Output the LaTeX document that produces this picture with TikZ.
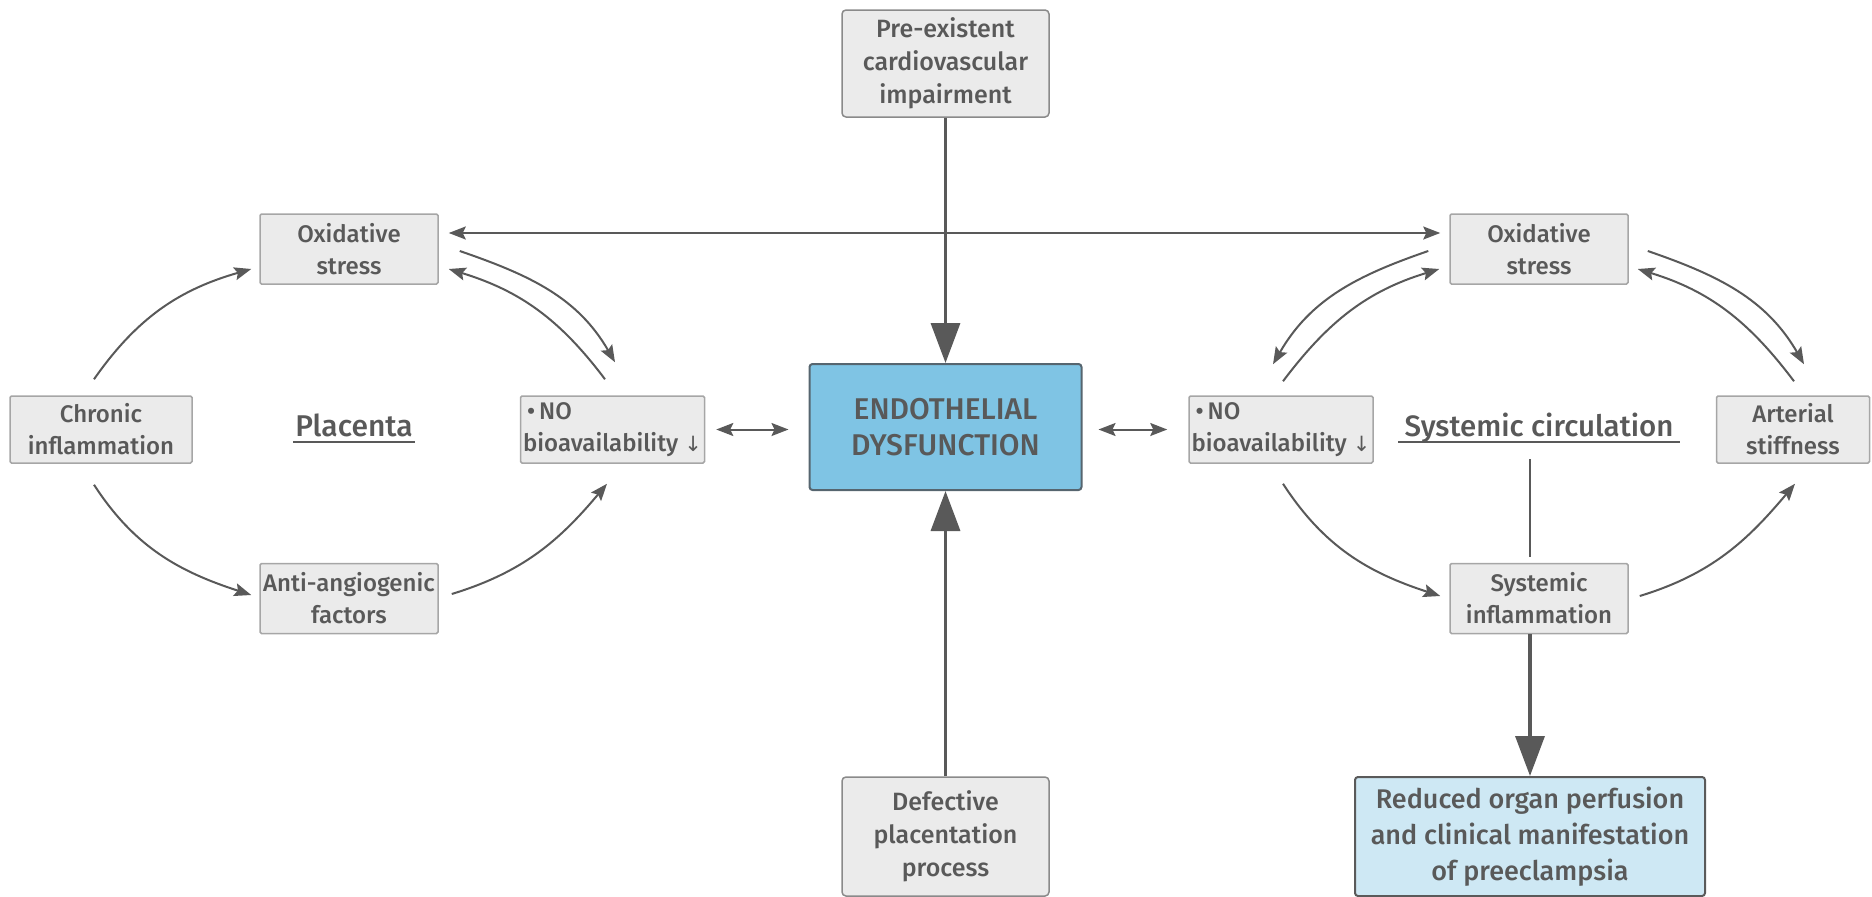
\documentclass[tikz,border=0pt]{standalone}
\usepackage{fontspec}
\IfFontExistsTF{Fira Sans Medium}
  {\setmainfont{Fira Sans Medium}}
  {\setmainfont{Fira Sans}[FakeBold=1.2]}
\newfontfamily\symfont{DejaVu Sans}
\usetikzlibrary{arrows.meta,calc}
\definecolor{ink}{HTML}{595959}
\definecolor{boxfill}{HTML}{EBEBEB}
\definecolor{boxline}{HTML}{A6A6A6}
\definecolor{keyline}{HTML}{8A8A8A}
\definecolor{endofill}{HTML}{7FC4E4}
\definecolor{endoline}{HTML}{56656F}
\definecolor{resfill}{HTML}{CEE8F4}
\definecolor{resline}{HTML}{5A5A5A}
\begin{document}
\begin{tikzpicture}[x=1pt,y=1pt,
  every node/.style={text=ink},
  factor/.style={draw=boxline, fill=boxfill, line width=1.5pt, rounded corners=1.5pt,
    minimum width=178pt, minimum height=70pt, inner sep=0pt, align=center,
    font=\fontsize{24}{32}\selectfont},
  cause/.style={draw=keyline, fill=boxfill, line width=1.5pt, rounded corners=4pt,
    minimum width=207pt, inner sep=0pt, align=center,
    font=\fontsize{25}{33}\selectfont},
  region/.style={font=\fontsize{30}{36}\selectfont, inner ysep=0pt, inner xsep=2pt, anchor=base},
  link/.style={draw=ink, line width=2pt, -{Stealth[length=17pt,width=13pt,inset=3pt]}},
  twoway/.style={draw=ink, line width=2pt,
    {Stealth[length=17pt,width=13pt,inset=3pt]}-{Stealth[length=17pt,width=13pt,inset=3pt]}},
  heavy/.style={draw=ink, line width=3.5pt, -{Triangle[length=40pt,width=29pt]}},
]
\useasboundingbox (0,0) rectangle (1872,-897);

% central column
\node[cause, minimum height=107pt] (pre) at (945.5,-63.5) {Pre-existent\\cardiovascular\\impairment};
\node[cause, minimum height=119pt] (def) at (945.5,-836.5) {Defective\\placentation\\process};
\node[draw=endoline, fill=endofill, line width=2pt, rounded corners=3pt,
      minimum width=272pt, minimum height=126pt, inner sep=0pt, align=center,
      font=\fontsize{30}{36}\selectfont] (endo) at (945.5,-427) {ENDOTHELIAL\\DYSFUNCTION};

% placental cycle
\node[factor] (oxL) at (349,-249) {Oxidative\\stress};
\node[factor, minimum width=182pt, minimum height=67pt] (chronic) at (101,-429.5) {Chronic\\inflammation};
\node[factor, minimum width=184pt, minimum height=67pt, align=left] (noL) at (612.5,-429.5)
  {\hspace{4pt}•\hspace{4pt}NO\\bioavailability {\symfont\fontsize{21}{32}\selectfont ↓}};
\node[factor] (anti) at (349,-598.5) {Anti-angiogenic\\factors};
\node[region] (plac) at (354,-436) {Placenta};
\draw[ink, line width=2pt] ([yshift=-6pt]plac.base west) -- ([yshift=-6pt]plac.base east);

% systemic cycle
\node[factor] (oxR) at (1539,-249) {Oxidative\\stress};
\node[factor, minimum width=184pt, minimum height=67pt, align=left] (noR) at (1281,-429.5)
  {\hspace{4pt}•\hspace{4pt}NO\\bioavailability {\symfont\fontsize{21}{32}\selectfont ↓}};
\node[factor, minimum width=153pt, minimum height=67pt] (arterial) at (1793,-429.5) {Arterial\\stiffness};
\node[factor] (sysinf) at (1539,-598.5) {Systemic\\inflammation};
\node[region, font=\fontsize{29.5}{36}\selectfont, inner xsep=6pt] (circ) at (1539,-436) {Systemic circulation};
\draw[ink, line width=2pt] ([yshift=-6pt]circ.base west) -- ([yshift=-6pt]circ.base east);

% outcome
\node[draw=resline, fill=resfill, line width=2pt, rounded corners=3pt,
      minimum width=350pt, minimum height=119pt, inner sep=0pt, align=center,
      font=\fontsize{27}{36}\selectfont] (out) at (1530,-836.5)
  {Reduced organ perfusion\\and clinical manifestation\\of preeclampsia};

% main vertical connectors
\draw[heavy] (pre.south) -- (endo.north);
\draw[heavy] (def.north) -- (endo.south);
\draw[heavy] (sysinf.south -| out.north) -- (out.north);
\draw[ink, line width=2.5pt] ($(circ.base -| out.north)+(0,-23)$) -- ($(sysinf.north -| out.north)+(0,6)$);

% two-way links
\draw[twoway] ([xshift=10pt,yshift=16pt]oxL.east) -- ([xshift=-9pt,yshift=16pt]oxR.west);
\draw[twoway, shorten <=11pt, shorten >=20pt] (noL.east) -- (noL.east -| endo.west);
\draw[twoway, shorten <=16pt, shorten >=21pt] (endo.east |- noR.west) -- (noR.west);

% placental cycle arrows
\draw[link] ([xshift=-7pt,yshift=16pt]chronic.north) to[out=55,in=196] ([xshift=-8pt,yshift=-20pt]oxL.west);
\draw[link] ([xshift=21pt,yshift=-2pt]oxL.east) to[out=-19,in=120] ([xshift=2.5pt,yshift=33pt]noL.north);
\draw[link] ([xshift=-7.5pt,yshift=16pt]noL.north) to[out=127,in=-17] ([xshift=10pt,yshift=-20pt]oxL.east);
\draw[link] ([xshift=-7pt,yshift=-21pt]chronic.south) to[out=-57,in=162] ([xshift=-8pt,yshift=3.5pt]anti.west);
\draw[link] ([xshift=13pt,yshift=4.5pt]anti.east) to[out=17,in=230] ([xshift=-5.5pt,yshift=-20pt]noL.south);

% systemic cycle arrows
\draw[link] ([xshift=-21pt,yshift=-2pt]oxR.west) to[out=199,in=60] ([xshift=-8pt,yshift=31pt]noR.north);
\draw[link] ([xshift=2pt,yshift=14pt]noR.north) to[out=53,in=197] ([xshift=-10pt,yshift=-20pt]oxR.west);
\draw[link] ([xshift=19pt,yshift=-2pt]oxR.east) to[out=-19,in=120] ([xshift=11pt,yshift=31pt]arterial.north);
\draw[link] ([xshift=1pt,yshift=14pt]arterial.north) to[out=127,in=-17] ([xshift=9pt,yshift=-20pt]oxR.east);
\draw[link] ([xshift=2pt,yshift=-20pt]noR.south) to[out=-57,in=162] ([xshift=-9pt,yshift=2.5pt]sysinf.west);
\draw[link] ([xshift=11pt,yshift=2.5pt]sysinf.east) to[out=17,in=230] ([xshift=2pt,yshift=-20pt]arterial.south);
\end{tikzpicture}
\end{document}
